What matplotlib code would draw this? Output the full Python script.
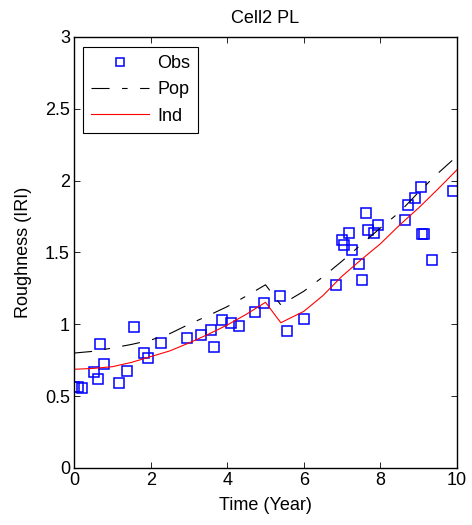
import numpy as np
import matplotlib
matplotlib.use('Agg')
import matplotlib.pyplot as plt
from matplotlib.ticker import FormatStrFormatter

plt.rcParams['font.family'] = ['Liberation Sans', 'DejaVu Sans']
plt.rcParams['lines.scale_dashes'] = False

# observations
obs_t = [0.0, 0.09, 0.2, 0.52, 0.63, 0.68, 0.77, 1.16, 1.37, 1.57, 1.82, 1.93,
         2.26, 2.94, 3.32, 3.58, 3.66, 3.87, 4.09, 4.31, 4.72, 4.96, 5.38, 5.56,
         6.01, 6.85, 7.0, 7.04, 7.18, 7.26, 7.43, 7.53, 7.62, 7.69, 7.84, 7.95,
         8.65, 8.73, 8.91, 9.05, 9.09, 9.14, 9.35, 9.9]
obs_y = [0.566, 0.561, 0.56, 0.666, 0.617, 0.861, 0.724, 0.589, 0.675, 0.979, 0.802, 0.768,
         0.868, 0.903, 0.928, 0.96, 0.842, 1.028, 1.007, 0.988, 1.088, 1.146, 1.195, 0.951,
         1.037, 1.273, 1.587, 1.554, 1.633, 1.517, 1.42, 1.31, 1.772, 1.656, 1.635, 1.693,
         1.724, 1.83, 1.881, 1.955, 1.628, 1.626, 1.45, 1.93]

# population / individual predictions
fit_t = [0, 0.5, 1, 1.5, 2, 2.5, 3, 3.5, 4, 4.5, 5, 5.4,
         6, 6.5, 7, 7.5, 8, 8.5, 9, 9.5, 10]
pop_y = [0.80, 0.812, 0.835, 0.86, 0.89, 0.935, 1.0, 1.06, 1.123, 1.197, 1.275, 1.135,
         1.23, 1.33, 1.44, 1.555, 1.67, 1.78, 1.92, 2.05, 2.17]
ind_y = [0.687, 0.693, 0.705, 0.735, 0.775, 0.815, 0.87, 0.93, 0.995, 1.07, 1.153, 1.011,
         1.09, 1.20, 1.335, 1.45, 1.56, 1.69, 1.81, 1.94, 2.075]

fig = plt.figure(figsize=(4.72, 5.25), dpi=100)
ax = fig.add_axes([0.157, 0.1086, 0.811, 0.821])

ax.plot(obs_t, obs_y, 's', mfc='none', mec='#0000ff', ms=7.5, mew=1.1, label='Obs')
ax.plot(fit_t, pop_y, color='black', lw=0.8, dashes=(13, 9, 4, 9), label='Pop')
ax.plot(fit_t, ind_y, color='red', lw=0.8, label='Ind')

ax.set_xlim(0, 10)
ax.set_ylim(0, 3)
ax.set_xticks([0, 2, 4, 6, 8, 10])
ax.set_yticks([0, 0.5, 1, 1.5, 2, 2.5, 3])
ax.yaxis.set_major_formatter(FormatStrFormatter('%g'))
ax.tick_params(direction='in', top=True, right=True, labelsize=13, length=4, width=0.6, pad=3)
for s in ax.spines.values():
    s.set_linewidth(1.0)

ax.set_title('Cell2 PL', fontsize=13, pad=10)
ax.set_xlabel('Time (Year)', fontsize=13, labelpad=6)
ax.set_ylabel('Roughness (IRI)', fontsize=13, labelpad=9)

leg = ax.legend(loc='upper left', fontsize=13, handlelength=3.2, markerscale=0.75,
                fancybox=False, edgecolor='black', framealpha=1,
                borderpad=0.45, labelspacing=0.52, handletextpad=0.45,
                borderaxespad=0, bbox_to_anchor=(0.0235, 0.977))
leg.get_frame().set_linewidth(0.8)

fig.savefig('out.png', dpi=100)
